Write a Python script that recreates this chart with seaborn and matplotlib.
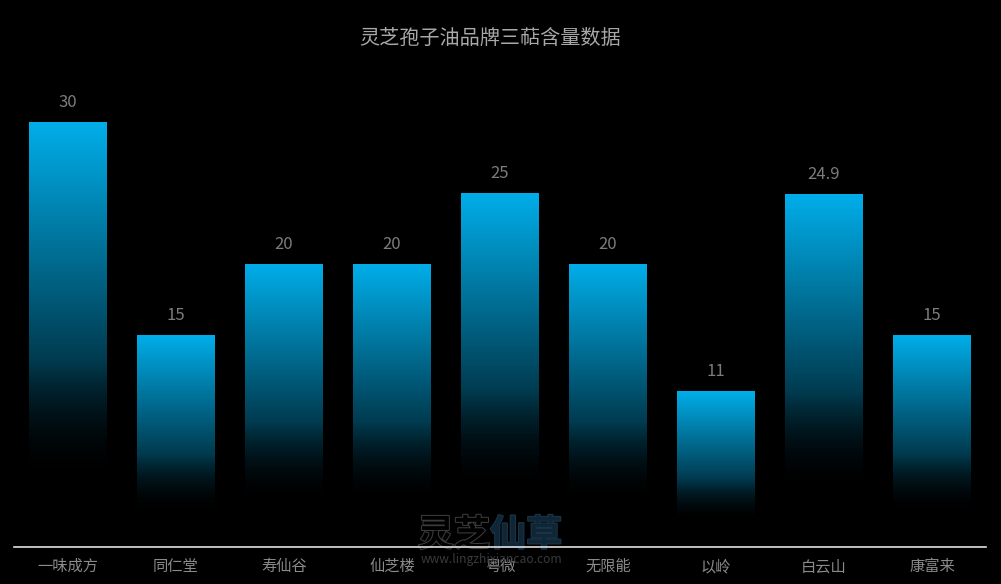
import numpy as np
import pandas as pd
import matplotlib.pyplot as plt
import matplotlib.patheffects as pe
import seaborn as sns

# data
brands = ['一味成方', '同仁堂', '寿仙谷', '仙芝楼', '粤微', '无限能', '以岭', '白云山', '康富来']
triterpene = [30, 15, 20, 20, 25, 20, 11, 24.9, 15]

title = '灵芝孢子油品牌三萜含量数据'
bar_color = np.array([0, 174, 234]) / 255.0

df = pd.DataFrame({'brand': brands, 'value': triterpene})

sns.set_style('dark', {'axes.facecolor': 'black', 'figure.facecolor': 'black'})
plt.rcParams['font.family'] = ['Noto Sans CJK SC', 'DejaVu Sans']

fig = plt.figure(figsize=(10.01, 5.84), dpi=100)
fig.patch.set_facecolor('black')
ax = fig.add_axes([14 / 1001, 37 / 584, 972 / 1001, (547 - 79.5) / 584])
ax.set_facecolor('black')

sns.barplot(data=df, x='brand', y='value', width=0.72, color='#00aeea', ax=ax)

# replace flat bars by a vertical gradient fading into black
n = 256
t = np.linspace(0, 1, n)
fade = np.clip(1 - t / 0.85, 0, 1)
grad = np.zeros((n, 1, 4))
grad[:, 0, :3] = fade[:, None] * bar_color[None, :]
grad[:, 0, 3] = np.clip(fade * 3, 0, 1)
for p in ax.patches:
    x0, y0 = p.get_x(), p.get_y()
    w, h = p.get_width(), p.get_height()
    p.set_facecolor('none')
    p.set_edgecolor('none')
    im = ax.imshow(grad, extent=[x0, x0 + w, y0, y0 + h], origin='upper',
                   aspect='auto', zorder=1, interpolation='bilinear')
    im.set_clip_path(p)
    ax.annotate(f'{p.get_height():g}', (x0 + w / 2, y0 + h), xytext=(0, 14),
                textcoords='offset points', ha='center', va='center',
                color='#7c7c7c', fontsize=12)

ax.set_xlim(-0.5, len(brands) - 0.5)
ax.set_ylim(0, 33)

ax.set_xlabel('')
ax.set_ylabel('')
ax.set_yticks([])
ax.grid(False)
for s in ['top', 'left', 'right']:
    ax.spines[s].set_visible(False)
ax.spines['bottom'].set_color('#e0e0e0')
ax.spines['bottom'].set_linewidth(1.2)
ax.spines['bottom'].set_zorder(3)
ax.tick_params(axis='x', length=0, pad=8, labelsize=11, labelcolor='#8a8a8a')

fig.text(490 / 1001, 1 - 38 / 584, title, ha='center', va='center',
         color='#a8a8a8', fontsize=14.5)

# watermark: above the bars, below the axis line
ax.text(490 / 1001, 1 - 535 / 584, '灵芝', transform=fig.transFigure, ha='right',
        va='center', fontsize=26, fontweight='bold', color='black', zorder=2,
        clip_on=False, path_effects=[pe.withStroke(linewidth=1.5, foreground='#3c3c3c')])
ax.text(490 / 1001, 1 - 535 / 584, '仙草', transform=fig.transFigure, ha='left',
        va='center', fontsize=26, fontweight='bold', color='#0f2637', zorder=2,
        clip_on=False, path_effects=[pe.withStroke(linewidth=1.5, foreground='#1b3344')])
ax.text(491 / 1001, 1 - 560 / 584, 'www.lingzhixiancao.com', transform=fig.transFigure,
        ha='center', va='center', fontsize=8.7, color='#3a3a3a', zorder=2,
        clip_on=False)

plt.savefig('out.png', dpi=100, facecolor='black')
